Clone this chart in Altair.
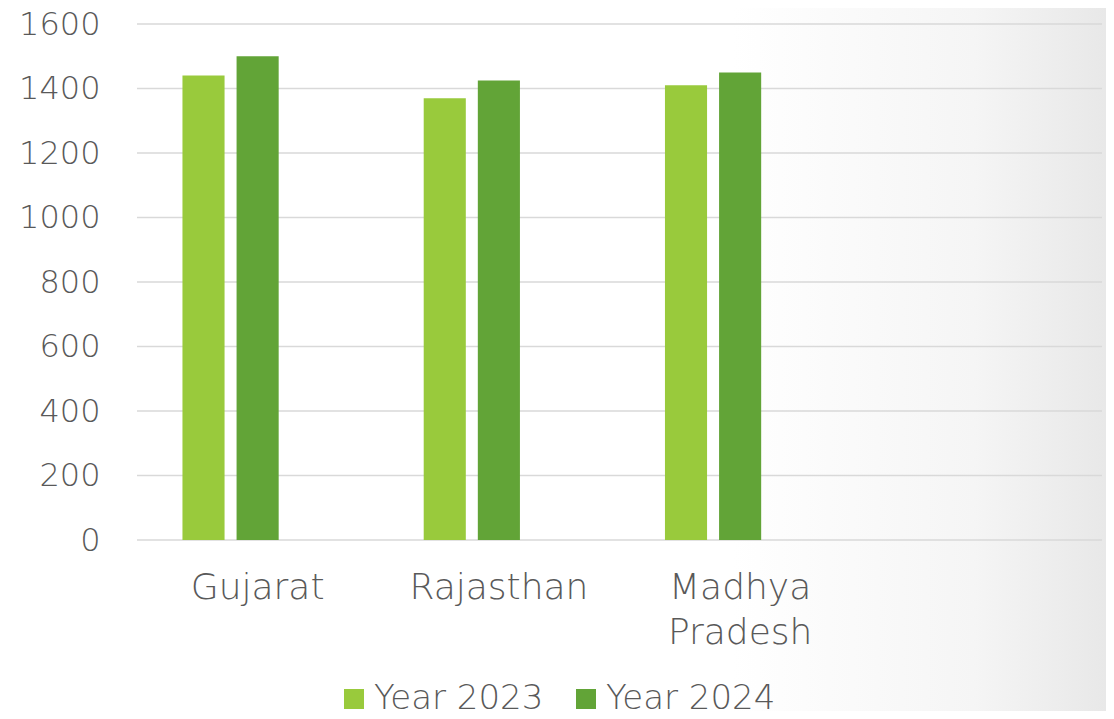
import altair as alt
import pandas as pd

categories = ["Gujarat", "Rajasthan", "Madhya Pradesh"]
x_domain = ["Gujarat", "Rajasthan", "Madhya Pradesh", " "]
series = ["Year 2023", "Year 2024"]
offset_domain = ["Year 2023", "Year 2024", "Series 3"]
values_2023 = [1440, 1370, 1410]
values_2024 = [1500, 1425, 1450]
grid_values = [0, 200, 400, 600, 800, 1000, 1200, 1400, 1600]
colors = ["#99CA3C", "#62A437"]

rows = []
for i, c in enumerate(categories):
    rows.append({"state": c, "series": "Year 2023", "value": values_2023[i]})
    rows.append({"state": c, "series": "Year 2024", "value": values_2024[i]})
df = pd.DataFrame(rows)

W, H = 965, 516
FONT = "DejaVu Sans"
TXT = "#595959"
WEIGHT = 200

bg = alt.Chart(alt.Data(values=[{"a": 1}])).mark_rect(
    color=alt.Gradient(
        gradient="linear",
        stops=[
            alt.GradientStop(color="#ffffff", offset=0),
            alt.GradientStop(color="#ffffff", offset=0.66),
            alt.GradientStop(color="#f5f5f5", offset=0.88),
            alt.GradientStop(color="#e8e8e8", offset=1),
        ],
        x1=0, x2=1, y1=0, y2=0,
    )
).encode(
    x=alt.value(-129), x2=alt.value(W + 4),
    y=alt.value(-16), y2=alt.value(H + 171),
)

grid = alt.Chart(pd.DataFrame({"g": grid_values})).mark_rule(
    color="#d9d9d9", strokeWidth=1.5
).encode(
    y=alt.Y("g:Q", scale=alt.Scale(domain=[0, 1600])),
    x=alt.value(0), x2=alt.value(W),
)

bars = alt.Chart(df).mark_bar().encode(
    x=alt.X(
        "state:N",
        scale=alt.Scale(domain=x_domain, paddingInner=0, paddingOuter=0),
        sort=x_domain,
        axis=alt.Axis(
            title=None, ticks=False, domain=False, grid=False, labelAngle=0,
            labelFont=FONT, labelFontSize=36, labelColor=TXT,
            labelFontWeight=WEIGHT,
            labelPadding=30, labelLineHeight=45, zindex=1,
            labelExpr="split(datum.label, ' ')",
        ),
    ),
    xOffset=alt.XOffset(
        "series:N",
        scale=alt.Scale(domain=offset_domain, paddingInner=0.222, paddingOuter=0.84),
    ),
    y=alt.Y(
        "value:Q",
        scale=alt.Scale(domain=[0, 1600]),
        axis=alt.Axis(
            title=None, ticks=False, domain=False, grid=False,
            values=grid_values, zindex=1, format="d",
            labelFont=FONT, labelFontSize=32, labelColor=TXT,
            labelFontWeight=WEIGHT,
            labelPadding=37,
        ),
    ),
    color=alt.Color(
        "series:N",
        scale=alt.Scale(domain=series, range=colors),
        legend=alt.Legend(
            title=None, orient="none", legendX=200, legendY=658,
            direction="horizontal", symbolType="square", symbolSize=400,
            symbolStrokeWidth=0, labelFont=FONT, labelFontSize=34,
            labelFontWeight=WEIGHT,
            labelColor=TXT, labelOffset=3, columnPadding=25, padding=0,
            labelLimit=400, zindex=2,
        ),
    ),
)

chart = alt.layer(bg, grid, bars).properties(
    width=W, height=H,
    autosize=alt.AutoSizeParams(type="none"),
    padding={"left": 129, "top": 16, "right": 4, "bottom": 171},
).configure_view(strokeWidth=0)

chart.save("out.html", embed_options={"renderer": "svg", "actions": False})
